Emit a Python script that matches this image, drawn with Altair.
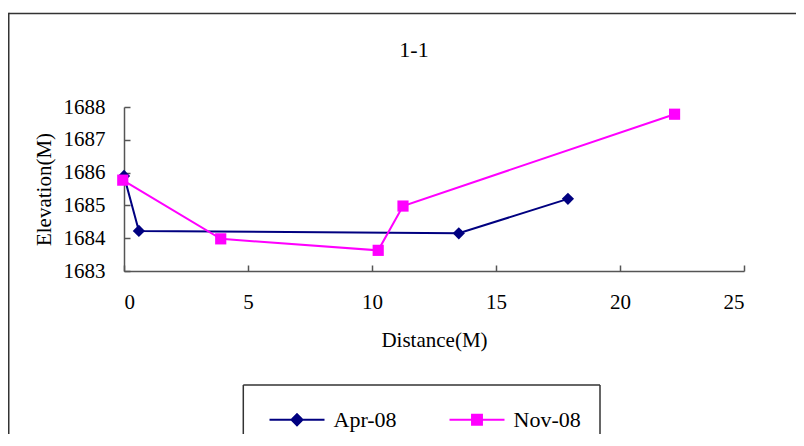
import altair as alt
import pandas as pd

series_names = ["Apr-08", "Nov-08"]
series_colors = ["#000080", "#FF00FF"]
apr_x = [0.0, 0.6, 13.5, 17.9]
apr_y = [1685.9, 1684.22, 1684.15, 1685.2]
nov_x = [-0.05, 3.9, 10.25, 11.25, 22.2]
nov_y = [1685.77, 1683.98, 1683.63, 1684.98, 1687.78]
x_ticks = [0, 5, 10, 15, 20, 25]
y_ticks = [1683, 1684, 1685, 1686, 1687, 1688]

df = pd.DataFrame({
    "series": [series_names[0]] * len(apr_x) + [series_names[1]] * len(nov_x),
    "distance": apr_x + nov_x,
    "elevation": apr_y + nov_y,
    "order": list(range(len(apr_x))) + list(range(len(nov_x))),
})

W, H = 620, 164
FONT = "Liberation Serif"
AX = "#555555"
FRAME = "#333333"

xs = alt.Scale(domain=[0, 25], nice=False, zero=False)
ys = alt.Scale(domain=[1683, 1688], nice=False, zero=False)
cs = alt.Scale(domain=series_names, range=series_colors)

base = alt.Chart(df)
apr = base.transform_filter(alt.datum.series == series_names[0])
nov = base.transform_filter(alt.datum.series == series_names[1])

main_x = alt.X("distance:Q", scale=xs, axis=alt.Axis(
    values=x_ticks, format="d", title="Distance(M)", ticks=False, tickSize=0, grid=False,
    domainColor=AX, domainWidth=1.5, labelPadding=20, labelFont=FONT, labelFontSize=21,
    labelColor="black", titleFont=FONT, titleFontSize=21, titleFontWeight="normal",
    titleColor="black", titleBaseline="alphabetic", titleY=75))
main_y = alt.Y("elevation:Q", scale=ys, axis=alt.Axis(
    values=y_ticks, format="d", title="Elevation(M)", ticks=False, tickSize=0, grid=False,
    domainColor=AX, domainWidth=1.5, labelPadding=19, labelFont=FONT, labelFontSize=21,
    labelColor="black", titleFont=FONT, titleFontSize=21, titleFontWeight="normal",
    titleColor="black", titleBaseline="alphabetic", titleX=-74, titleY=H / 2,
    titleAngle=270))
tick_x = alt.X("distance:Q", scale=xs, axis=alt.Axis(
    orient="top", offset=-H, values=x_ticks, labels=False, domain=False, grid=False,
    title=None, ticks=True, tickSize=6, tickColor=AX, tickWidth=1.5))
tick_y = alt.Y("elevation:Q", scale=ys, axis=alt.Axis(
    orient="right", offset=-W, values=y_ticks, labels=False, domain=False, grid=False,
    title=None, ticks=True, tickSize=6, tickColor=AX, tickWidth=1.5))
plain_x = alt.X("distance:Q", scale=xs, axis=None)
plain_y = alt.Y("elevation:Q", scale=ys, axis=None)

line_apr = apr.mark_line(strokeWidth=2, color=series_colors[0]).encode(
    x=main_x, y=main_y, order="order:Q")
line_nov = nov.mark_line(strokeWidth=2, color=series_colors[1]).encode(
    x=plain_x, y=plain_y, order="order:Q")

pts_apr = apr.mark_point(
    shape="diamond", filled=True, size=150, color=series_colors[0], opacity=1
).encode(x=tick_x, y=tick_y)
pts_nov = nov.mark_point(
    shape="square", filled=True, size=125, color=series_colors[1], opacity=1
).encode(x=plain_x, y=plain_y)

path_apr = "M-1,0H1M0,-0.2L0.2,0L0,0.2L-0.2,0Z"
path_nov = "M-1,0H1M-0.18,-0.18H0.18V0.18H-0.18Z"

leg = alt.Legend(
    orient="none", legendX=126.5, legendY=284, direction="horizontal", title=None,
    padding=0, symbolSize=3025, symbolStrokeWidth=2, symbolOffset=18, labelOffset=8,
    labelFont=FONT, labelFontSize=22, labelColor="black", columnPadding=33,
)
legend_layer = base.transform_filter("false").mark_point(
    filled=True, opacity=1, strokeWidth=2, size=3025
).encode(
    fill=alt.Fill("series:N", scale=cs, legend=leg),
    stroke=alt.Stroke("series:N", scale=cs, legend=leg),
    shape=alt.Shape("series:N", scale=alt.Scale(domain=series_names, range=[path_apr, path_nov]), legend=leg),
)

one = alt.Chart(alt.Data(values=[{"k": 1}]))


def hrule(x0, x1, y0):
    return one.mark_rule(color=FRAME, strokeWidth=1.5).encode(
        x=alt.value(x0), x2=alt.value(x1), y=alt.value(y0))


def vrule(x0, y0, y1):
    return one.mark_rule(color=FRAME, strokeWidth=1.5).encode(
        x=alt.value(x0), y=alt.value(y0), y2=alt.value(y1))


frame_top = hrule(-115.25, 672, -93.5)
frame_left = vrule(-115.25, -94.25, 339)
box_top = hrule(119.3, 476, 278)
box_left = vrule(119.3, 278, 339)
box_right = vrule(476, 278, 339)

chart = alt.layer(
    frame_top, frame_left, box_top, box_left, box_right,
    line_apr, line_nov, pts_apr, pts_nov, legend_layer
).resolve_axis(
    x="independent", y="independent"
).properties(
    width=W, height=H,
    title=alt.TitleParams("1-1", font=FONT, fontSize=22, fontWeight="normal", color="black",
                          anchor="middle", frame="group", offset=-50, dx=-20),
    autosize=alt.AutoSizeParams(type="none"),
    padding={"left": 116, "top": 99, "right": 52, "bottom": 163},
).configure_view(stroke=None)

chart.save("out.html", embed_options={"renderer": "svg", "actions": False})
